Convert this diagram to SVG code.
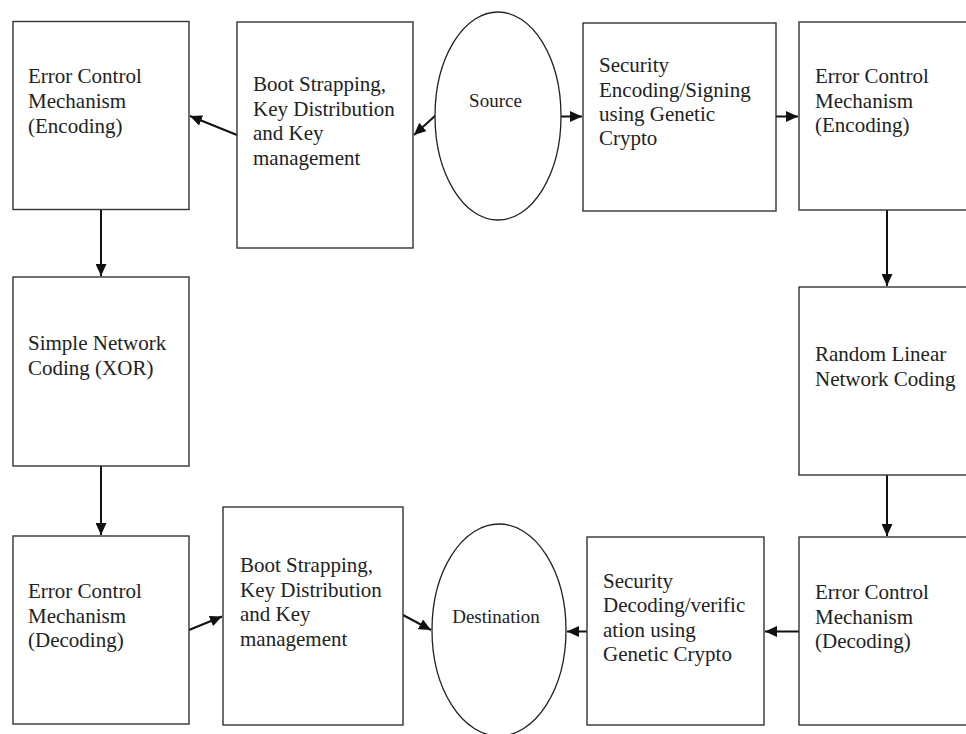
<svg xmlns="http://www.w3.org/2000/svg" width="966" height="734" viewBox="0 0 966 734">
  <style>
    .box { fill: #ffffff; stroke: #333333; stroke-width: 1.4; }
    .oval { fill: #ffffff; stroke: #222222; stroke-width: 1.3; }
    .lbl { font-family: "Liberation Serif", "Times New Roman", serif; font-size: 21px; fill: #222222; }
    .olbl { font-family: "Liberation Serif", "Times New Roman", serif; font-size: 19px; fill: #222222; text-anchor: middle; }
    .edge { fill: none; stroke: #111111; stroke-width: 2; marker-end: url(#head); }
  </style>
  <defs>
    <marker id="head" markerUnits="userSpaceOnUse" markerWidth="13" markerHeight="11" refX="12" refY="5.5" orient="auto">
      <path d="M0,0 L12,5.5 L0,11 Z" fill="#111111"/>
    </marker>
  </defs>
  <rect width="966" height="734" fill="#ffffff"/>

  <!-- connectors -->
  <g id="connectors">
    <line class="edge" x1="436" y1="115" x2="414" y2="135"/>
    <line class="edge" x1="237" y1="135" x2="190" y2="116"/>
    <line class="edge" x1="561" y1="116.5" x2="582" y2="116.5"/>
    <line class="edge" x1="776" y1="116.5" x2="798" y2="116.5"/>
    <line class="edge" x1="887" y1="210" x2="887" y2="286"/>
    <line class="edge" x1="887" y1="475" x2="887" y2="536"/>
    <line class="edge" x1="799" y1="631.5" x2="765" y2="631.5"/>
    <line class="edge" x1="587" y1="631.5" x2="567" y2="631.5"/>
    <line class="edge" x1="189" y1="630" x2="222" y2="616.5"/>
    <line class="edge" x1="403" y1="615" x2="431" y2="630"/>
    <line class="edge" x1="101" y1="209.5" x2="101" y2="276"/>
    <line class="edge" x1="101" y1="466" x2="101" y2="535"/>
  </g>

  <g id="ecm-encode-left">
    <rect class="box" x="13" y="21.5" width="176" height="188"/>
    <text class="lbl" x="28" y="83">Error Control</text>
    <text class="lbl" x="28" y="108">Mechanism</text>
    <text class="lbl" x="28" y="133">(Encoding)</text>
  </g>

  <g id="bootstrap-top">
    <rect class="box" x="237" y="22" width="176" height="226"/>
    <text class="lbl" x="253" y="91">Boot Strapping,</text>
    <text class="lbl" x="253" y="115.5">Key Distribution</text>
    <text class="lbl" x="253" y="140">and Key</text>
    <text class="lbl" x="253" y="165">management</text>
  </g>

  <g id="source">
    <ellipse class="oval" cx="498" cy="116" rx="63" ry="104"/>
    <text class="olbl" x="495.5" y="107">Source</text>
  </g>

  <g id="security-encode">
    <rect class="box" x="583" y="23" width="193" height="188"/>
    <text class="lbl" x="599" y="72">Security</text>
    <text class="lbl" x="599" y="96.5">Encoding/Signing</text>
    <text class="lbl" x="599" y="120.5">using Genetic</text>
    <text class="lbl" x="599" y="145">Crypto</text>
  </g>

  <g id="ecm-encode-right">
    <rect class="box" x="799" y="22" width="200" height="188"/>
    <text class="lbl" x="815" y="83">Error Control</text>
    <text class="lbl" x="815" y="107.5">Mechanism</text>
    <text class="lbl" x="815" y="132">(Encoding)</text>
  </g>

  <g id="random-linear">
    <rect class="box" x="799" y="287" width="200" height="188"/>
    <text class="lbl" x="815" y="361">Random Linear</text>
    <text class="lbl" x="815" y="385.5">Network Coding</text>
  </g>

  <g id="ecm-decode-right">
    <rect class="box" x="799" y="537" width="200" height="188"/>
    <text class="lbl" x="815" y="599">Error Control</text>
    <text class="lbl" x="815" y="623.5">Mechanism</text>
    <text class="lbl" x="815" y="648">(Decoding)</text>
  </g>

  <g id="security-decode">
    <rect class="box" x="587" y="537" width="177" height="188"/>
    <text class="lbl" x="603" y="587.5">Security</text>
    <text class="lbl" x="603" y="612">Decoding/verific</text>
    <text class="lbl" x="603" y="636.5">ation using</text>
    <text class="lbl" x="603" y="661">Genetic Crypto</text>
  </g>

  <g id="destination">
    <ellipse class="oval" cx="499" cy="630" rx="67" ry="106"/>
    <text class="olbl" x="496" y="623">Destination</text>
  </g>

  <g id="bootstrap-bottom">
    <rect class="box" x="223" y="507" width="180" height="218"/>
    <text class="lbl" x="240" y="572">Boot Strapping,</text>
    <text class="lbl" x="240" y="596.5">Key Distribution</text>
    <text class="lbl" x="240" y="621">and Key</text>
    <text class="lbl" x="240" y="645.5">management</text>
  </g>

  <g id="ecm-decode-left">
    <rect class="box" x="13" y="536" width="176" height="188"/>
    <text class="lbl" x="28" y="598">Error Control</text>
    <text class="lbl" x="28" y="622.5">Mechanism</text>
    <text class="lbl" x="28" y="647">(Decoding)</text>
  </g>

  <g id="simple-xor">
    <rect class="box" x="13" y="277" width="176" height="189"/>
    <text class="lbl" x="28" y="350">Simple Network</text>
    <text class="lbl" x="28" y="375">Coding (XOR)</text>
  </g>
</svg>
